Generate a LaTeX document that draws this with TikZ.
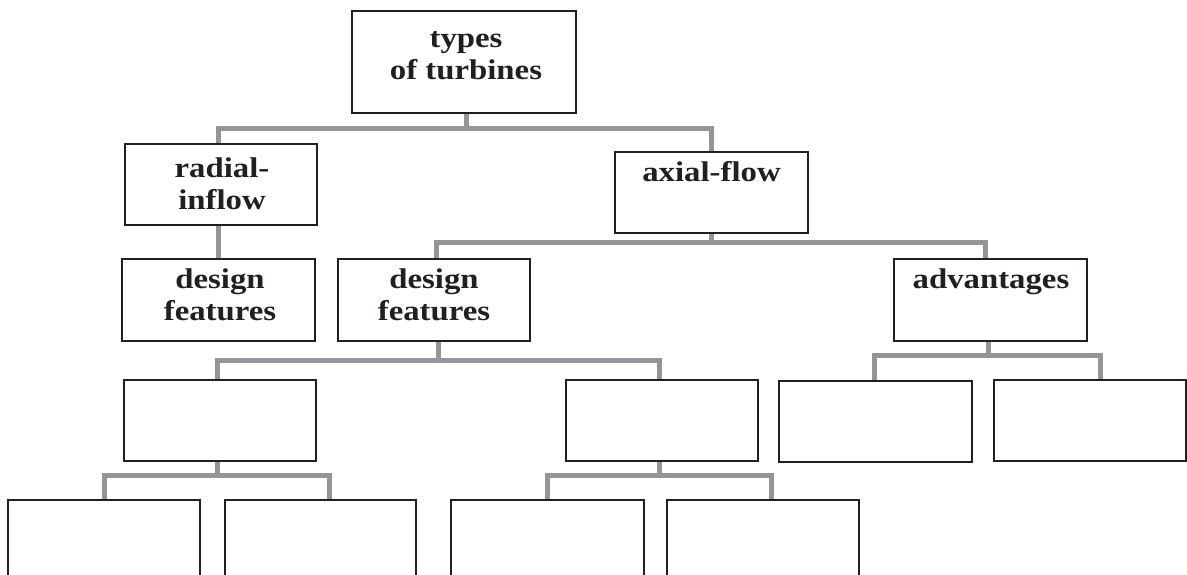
\documentclass[tikz,border=0pt]{standalone}
\usepackage{fontspec}
\setmainfont[FakeStretch=1.15]{Liberation Serif}
\usetikzlibrary{backgrounds}
\definecolor{conngray}{HTML}{939598}
\definecolor{inkline}{HTML}{231F20}
\newcommand{\firstline}{\rule{0pt}{22pt}}
\begin{document}
\begin{tikzpicture}[x=1pt,y=-1pt,
  box/.style n args={2}{draw=inkline,line width=1.2pt,fill=white,inner sep=0pt,
    minimum width=#1,minimum height=#2},
  lbl/.style={anchor=north,inner sep=0pt,align=center,text=inkline,
    font=\fontsize{28.5}{32.3}\selectfont\bfseries},
  conn/.style={draw=conngray,line width=5pt}]
\useasboundingbox (0,0) rectangle (1187,574);
\clip (0,0) rectangle (1187,574);
% boxes
\node[box={224pt}{102pt}] (top) at (464,62) {};
\node[box={192pt}{81pt}] (radial) at (221,184.5) {};
\node[box={193pt}{81pt}] (axial) at (711.5,192.5) {};
\node[box={193pt}{82pt}] (dfL) at (218.5,300) {};
\node[box={192pt}{82pt}] (dfM) at (434,300) {};
\node[box={193pt}{82pt}] (adv) at (990.5,300) {};
\node[box={192pt}{81pt}] (e1) at (220,420.5) {};
\node[box={192pt}{81pt}] (e2) at (662,420.5) {};
\node[box={193pt}{81pt}] (e3) at (875.5,421.5) {};
\node[box={192pt}{81pt}] (e4) at (1090,420.5) {};
\node[box={192pt}{100pt}] (b1) at (104,550) {};
\node[box={191pt}{100pt}] (b2) at (320.5,550) {};
\node[box={193pt}{100pt}] (b3) at (547.5,550) {};
\node[box={192pt}{100pt}] (b4) at (763,550) {};
% labels
\node[lbl] (topT) at (466,25) {\firstline types\\of turbines};
\node[lbl] (radT) at (222,155) {\firstline radial-\\inflow};
\node[lbl] (axT) at (711.5,159) {\firstline axial-flow};
\node[lbl] (dfLT) at (220,266) {\firstline design\\features};
\node[lbl] (dfMT) at (434,266) {\firstline design\\features};
\node[lbl] (advT) at (991,266) {\firstline advantages};
% connectors
\begin{pgfonlayer}{background}
\draw[conn] ([xshift=2pt]top.south) -- ++(0,16);
\draw[conn] ([xshift=-2.5pt]radial.north) -- ++(0,-15) -| (axial.north);
\draw[conn] (radial.south -| dfL.north) -- (dfL.north);
\draw[conn] (axial.south) -- ++(0,10.5);
\draw[conn] ([xshift=2pt]dfM.north) -- ++(0,-15.5) -| ([xshift=-5.5pt]adv.north);
\draw[conn] ([xshift=4.5pt]dfM.south) -- ++(0,20.5);
\draw[conn] ([xshift=-3pt]e1.north) -- ++(0,-18.5) -| ([xshift=-3pt]e2.north);
\draw[conn] ([xshift=-2.5pt]adv.south) -- ++(0,15);
\draw[conn] ([xshift=-1.5pt]e3.north) -- ++(0,-25) -| ([xshift=10pt]e4.north);
\draw[conn] ([xshift=-3pt]e1.south) -- ++(0,15.5);
\draw[conn] (b1.north) -- ++(0,-23.5) -| ([xshift=8.5pt]b2.north);
\draw[conn] ([xshift=-3pt]e2.south) -- ++(0,15.5);
\draw[conn] (b3.north) -- ++(0,-23.5) -| ([xshift=8pt]b4.north);
\end{pgfonlayer}
\end{tikzpicture}
\end{document}
